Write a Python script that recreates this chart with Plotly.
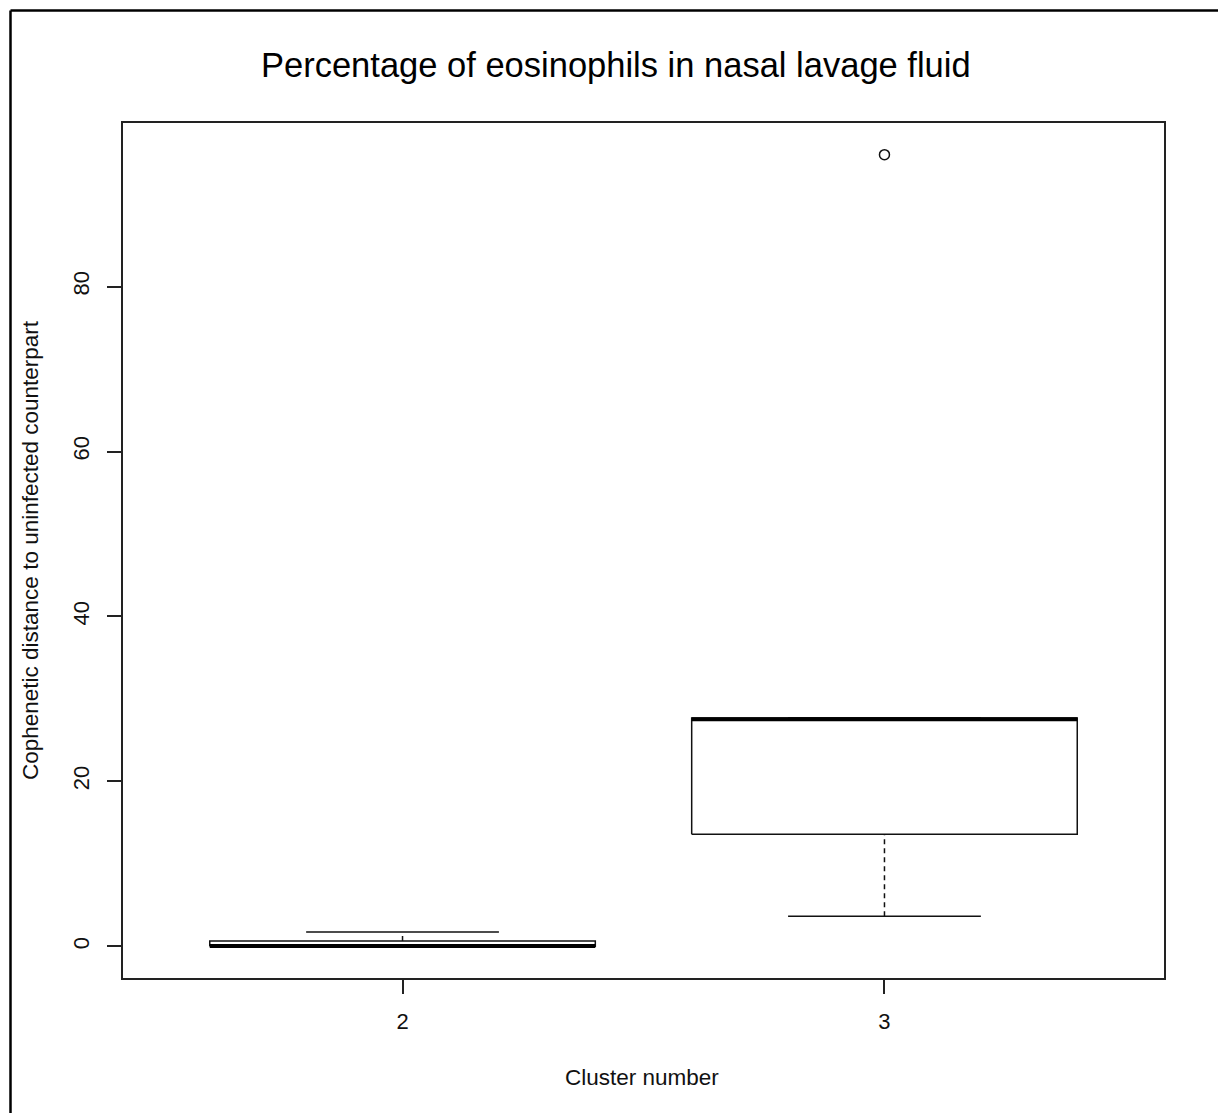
import plotly.graph_objects as go

# ---- data ----
categories = ["2", "3"]
positions = [1, 2]
lower_whisker = [0.0, 3.65]
q1 = [0.0, 13.6]
median = [0.05, 27.55]
q3 = [0.65, 27.7]
upper_whisker = [1.75, 27.7]
outlier_group = ["3"]
outlier_value = [96.0]
y_ticks = [0, 20, 40, 60, 80]

title = "Percentage of eosinophils in nasal lavage fluid"
x_title = "Cluster number"
y_title = "Cophenetic distance to uninfected counterpart"

BOX_HALF = 0.4
STAPLE_HALF = 0.2
LINE = "#111111"
FONT = "Liberation Sans, Arial, sans-serif"

fig = go.Figure()

for i, cat in enumerate(categories):
    p = positions[i]
    # box outline
    fig.add_trace(go.Scatter(
        x=[p - BOX_HALF, p + BOX_HALF, p + BOX_HALF, p - BOX_HALF, p - BOX_HALF],
        y=[q1[i], q1[i], q3[i], q3[i], q1[i]],
        mode="lines", line=dict(color=LINE, width=1.5), hoverinfo="skip", showlegend=False))
    # whiskers (dashed)
    for a, b in ((lower_whisker[i], q1[i]), (q3[i], upper_whisker[i])):
        if b != a:
            fig.add_trace(go.Scatter(
                x=[p, p], y=[a, b], mode="lines",
                line=dict(color=LINE, width=1.5, dash="5px,4px"),
                hoverinfo="skip", showlegend=False))
    # staples
    for v in (lower_whisker[i], upper_whisker[i]):
        fig.add_trace(go.Scatter(
            x=[p - STAPLE_HALF, p + STAPLE_HALF], y=[v, v], mode="lines",
            line=dict(color=LINE, width=1.5), hoverinfo="skip", showlegend=False))
    # median (thick)
    fig.add_trace(go.Scatter(
        x=[p - BOX_HALF, p + BOX_HALF], y=[median[i], median[i]], mode="lines",
        line=dict(color="#000000", width=4), hoverinfo="skip", showlegend=False))

# outliers
fig.add_trace(go.Scatter(
    x=[positions[categories.index(g)] for g in outlier_group], y=outlier_value,
    mode="markers",
    marker=dict(symbol="circle-open", size=10, color=LINE, line=dict(width=1.5)),
    showlegend=False))

W, H = 1218, 1113
L, R, T, B = 123, 54, 123, 135
pw, ph = W - L - R, H - T - B

def px_x(px):
    return (px - L) / pw

def px_y(py):
    return (H - B - py) / ph

fig.update_layout(
    width=W, height=H,
    margin=dict(l=L, r=R, t=T, b=B),
    paper_bgcolor="white", plot_bgcolor="white",
    font=dict(family=FONT, size=22, color="#111111"),
    showlegend=False,
    xaxis=dict(
        range=[0.42, 2.58], tickvals=positions, ticktext=categories,
        showgrid=False, zeroline=False, showline=True, mirror=True,
        linecolor="#222222", linewidth=1.5,
        ticks="outside", ticklen=14, tickwidth=1.5, tickcolor="#222222",
        ticklabelstandoff=9,
        tickfont=dict(size=22, family=FONT, color="#111111")),
    yaxis=dict(
        range=[-3.84, 99.84], tickvals=y_ticks, ticktext=[str(v) for v in y_ticks],
        showgrid=False, zeroline=False, showline=True, mirror=True,
        linecolor="#222222", linewidth=1.5,
        ticks="outside", ticklen=14, tickwidth=1.5, tickcolor="#222222",
        tickangle=-90, ticklabelstandoff=9,
        tickfont=dict(size=22, family=FONT, color="#111111")),
    annotations=[
        dict(text=title, x=px_x(616), y=px_y(65), xref="paper", yref="paper",
             xanchor="center", yanchor="middle", showarrow=False,
             font=dict(size=34.5, family=FONT, color="#000000")),
        dict(text=x_title, x=px_x(642), y=px_y(1077), xref="paper", yref="paper",
             xanchor="center", yanchor="middle", showarrow=False,
             font=dict(size=22.5, family=FONT, color="#111111")),
        dict(text=y_title, x=px_x(30), y=px_y(550), xref="paper", yref="paper",
             xanchor="center", yanchor="middle", showarrow=False, textangle=-90,
             font=dict(size=22.5, family=FONT, color="#111111")),
    ],
    shapes=[
        dict(type="line", xref="paper", yref="paper",
             x0=px_x(10.5), x1=px_x(10.5), y0=px_y(10.5), y1=px_y(H + 5),
             line=dict(color="#000000", width=2.5)),
        dict(type="line", xref="paper", yref="paper",
             x0=px_x(10.5), x1=px_x(W + 5), y0=px_y(10.5), y1=px_y(10.5),
             line=dict(color="#000000", width=2.5)),
    ],
)

fig.write_html("out.html", config={"displayModeBar": False},
               post_script="document.body.style.margin='0';document.body.style.overflow='hidden';")
